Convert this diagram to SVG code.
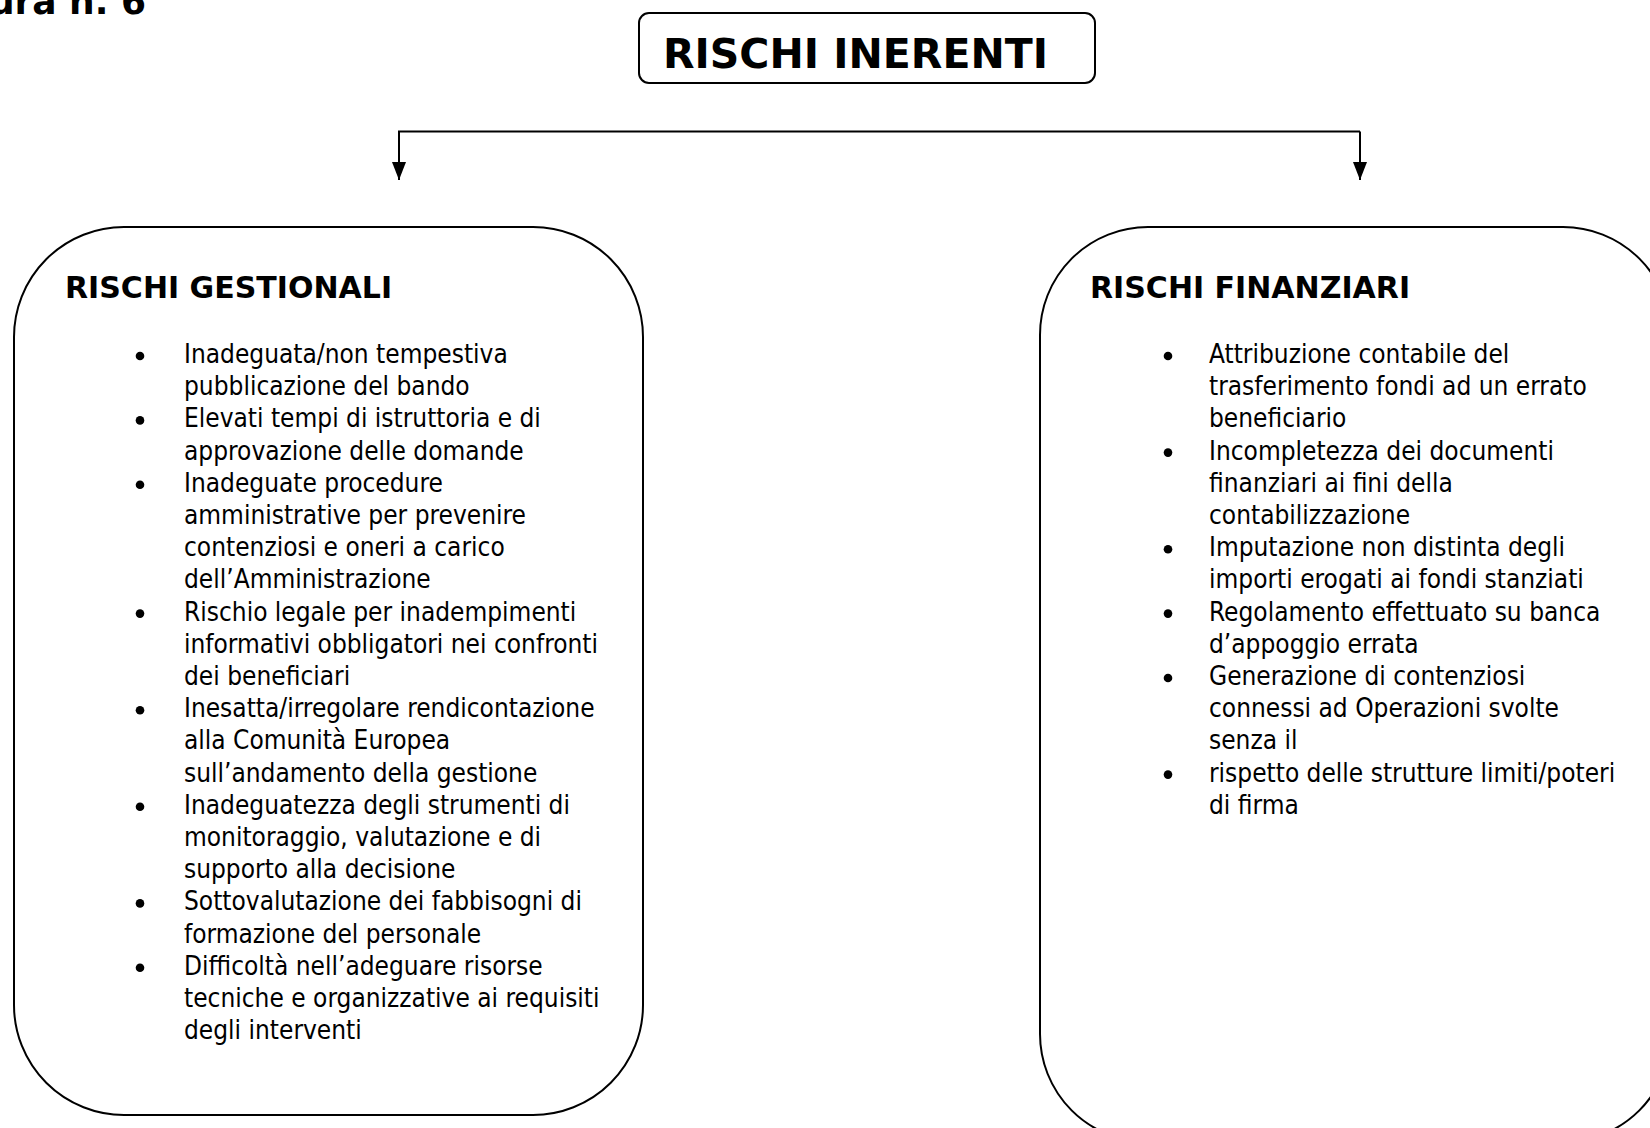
<svg xmlns="http://www.w3.org/2000/svg" width="1650" height="1128" viewBox="0 0 1650 1128">
<style>
.box{fill:#fff;stroke:#000;stroke-width:2}
.bold{font-family:"DejaVu Sans",Verdana,sans-serif;font-weight:bold;fill:#000}
.body{font-family:"DejaVu Sans Condensed","DejaVu Sans",sans-serif;font-size:26px;fill:#000}
.bul{fill:#000}
.conn{fill:none;stroke:#000;stroke-width:2}
</style>
<defs>
<marker id="arr" viewBox="0 0 18 14" refX="18" refY="7" markerWidth="18" markerHeight="14" markerUnits="userSpaceOnUse" orient="auto">
<path d="M0,0 L18,7 L0,14 Z" fill="#000"/>
</marker>
</defs>
<rect width="1650" height="1128" fill="#fff"/>
<text class="bold" x="146" y="14" font-size="36" text-anchor="end">Figura n. 6</text>
<g id="node-rischi-inerenti">
<rect class="box" x="639" y="13" width="456" height="70" rx="10"/>
<text class="bold" x="663" y="68" font-size="41">RISCHI INERENTI</text>
</g>
<g id="connectors">
<path class="conn" d="M1360,131.5 H399 V180" marker-end="url(#arr)"/>
<path class="conn" d="M1360,131.5 V180" marker-end="url(#arr)"/>
</g>
<g id="node-rischi-gestionali">
<rect class="box" x="14" y="227" width="629" height="888" rx="110"/>
<text class="bold" x="65" y="298" font-size="30">RISCHI GESTIONALI</text>
<g class="bul">
<circle cx="140" cy="356" r="4.3"/>
<circle cx="140" cy="420.4" r="4.3"/>
<circle cx="140" cy="484.8" r="4.3"/>
<circle cx="140" cy="613.6" r="4.3"/>
<circle cx="140" cy="710.2" r="4.3"/>
<circle cx="140" cy="806.8" r="4.3"/>
<circle cx="140" cy="903.4" r="4.3"/>
<circle cx="140" cy="967.8" r="4.3"/>
</g>
<text class="body" x="184" y="363">
<tspan x="184">Inadeguata/non tempestiva</tspan>
<tspan x="184" dy="32.2">pubblicazione del bando</tspan>
<tspan x="184" dy="32.2">Elevati tempi di istruttoria e di</tspan>
<tspan x="184" dy="32.2">approvazione delle domande</tspan>
<tspan x="184" dy="32.2">Inadeguate procedure</tspan>
<tspan x="184" dy="32.2">amministrative per prevenire</tspan>
<tspan x="184" dy="32.2">contenziosi e oneri a carico</tspan>
<tspan x="184" dy="32.2">dell’Amministrazione</tspan>
<tspan x="184" dy="32.2">Rischio legale per inadempimenti</tspan>
<tspan x="184" dy="32.2">informativi obbligatori nei confronti</tspan>
<tspan x="184" dy="32.2">dei beneficiari</tspan>
<tspan x="184" dy="32.2">Inesatta/irregolare rendicontazione</tspan>
<tspan x="184" dy="32.2">alla Comunità Europea</tspan>
<tspan x="184" dy="32.2">sull’andamento della gestione</tspan>
<tspan x="184" dy="32.2">Inadeguatezza degli strumenti di</tspan>
<tspan x="184" dy="32.2">monitoraggio, valutazione e di</tspan>
<tspan x="184" dy="32.2">supporto alla decisione</tspan>
<tspan x="184" dy="32.2">Sottovalutazione dei fabbisogni di</tspan>
<tspan x="184" dy="32.2">formazione del personale</tspan>
<tspan x="184" dy="32.2">Difficoltà nell’adeguare risorse</tspan>
<tspan x="184" dy="32.2">tecniche e organizzative ai requisiti</tspan>
<tspan x="184" dy="32.2">degli interventi</tspan>
</text>
</g>
<g id="node-rischi-finanziari">
<rect class="box" x="1040" y="227" width="631" height="915" rx="108"/>
<text class="bold" x="1090" y="298" font-size="30">RISCHI FINANZIARI</text>
<g class="bul">
<circle cx="1168" cy="356" r="4.3"/>
<circle cx="1168" cy="452.6" r="4.3"/>
<circle cx="1168" cy="549.2" r="4.3"/>
<circle cx="1168" cy="613.6" r="4.3"/>
<circle cx="1168" cy="678" r="4.3"/>
<circle cx="1168" cy="774.6" r="4.3"/>
</g>
<text class="body" x="1209" y="363">
<tspan x="1209">Attribuzione contabile del</tspan>
<tspan x="1209" dy="32.2">trasferimento fondi ad un errato</tspan>
<tspan x="1209" dy="32.2">beneficiario</tspan>
<tspan x="1209" dy="32.2">Incompletezza dei documenti</tspan>
<tspan x="1209" dy="32.2">finanziari ai fini della</tspan>
<tspan x="1209" dy="32.2">contabilizzazione</tspan>
<tspan x="1209" dy="32.2">Imputazione non distinta degli</tspan>
<tspan x="1209" dy="32.2">importi erogati ai fondi stanziati</tspan>
<tspan x="1209" dy="32.2">Regolamento effettuato su banca</tspan>
<tspan x="1209" dy="32.2">d’appoggio errata</tspan>
<tspan x="1209" dy="32.2">Generazione di contenziosi</tspan>
<tspan x="1209" dy="32.2">connessi ad Operazioni svolte</tspan>
<tspan x="1209" dy="32.2">senza il</tspan>
<tspan x="1209" dy="32.2">rispetto delle strutture limiti/poteri</tspan>
<tspan x="1209" dy="32.2">di firma</tspan>
</text>
</g>
</svg>
